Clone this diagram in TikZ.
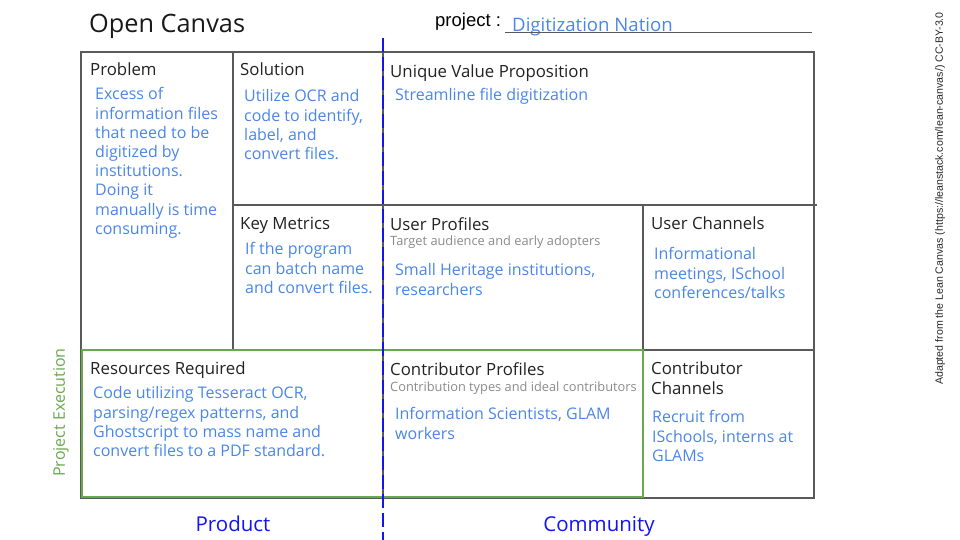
\documentclass[tikz,border=0pt]{standalone}
\usepackage{fontspec}
\setmainfont{Open Sans}
\newfontfamily\arialfont{Liberation Sans}
\usepackage{xcolor}
\definecolor{gridgray}{HTML}{5A5A5A}
\definecolor{headblack}{HTML}{222222}
\definecolor{bodyblue}{HTML}{4A86E8}
\definecolor{hintgray}{HTML}{8A8A8A}
\definecolor{execgreen}{HTML}{6AA84F}
\definecolor{splitblue}{HTML}{1414F0}

\tikzset{
    head/.style={anchor=north west, inner sep=0pt, align=left,
        font=\fontsize{16.8}{19.4}\selectfont, text=headblack},
    body/.style={anchor=north west, inner sep=0pt, align=left,
        font=\fontsize{16}{19.2}\selectfont, text=bodyblue},
    hint/.style={anchor=north west, inner sep=0pt, align=left,
        font=\fontsize{12.8}{15}\selectfont, text=hintgray},
    gridline/.style={draw=gridgray, line width=1.2pt},
    sidelabel/.style={anchor=base, inner sep=0pt, font=\fontsize{20.5}{24}\selectfont, text=splitblue}
}

\begin{document}
\begin{tikzpicture}[x=1pt,y=-1pt]
\useasboundingbox (0,0) rectangle (960,540);

% header
\node[anchor=base west, inner sep=0pt, font=\fontsize{25.3}{30}\selectfont, text=black!90] (title) at (89,33) {Open Canvas};
\node[anchor=base west, inner sep=0pt, font=\arialfont\fontsize{18.5}{21}\selectfont, text=black] (projlabel) at (435,26.5) {project :};
\node[anchor=base west, inner sep=0pt, font=\fontsize{18.6}{21}\selectfont, text=bodyblue] (projname) at (512,32) {Digitization Nation};
\draw[gridgray, line width=1pt] (505,33) -- (812,33);

% grid
\draw[gridline] (81,52) rectangle (814,498);
\draw[gridline] (233,52) -- (233,350);
\draw[gridline] (383,52) -- (383,498);
\draw[gridline] (233,205) -- (817,205);
\draw[gridline] (643,205) -- (643,498);
\draw[gridline] (643,350) -- (814,350);
\draw[execgreen, line width=2pt] (82,350) rectangle (643,497);
\draw[splitblue, line width=2.4pt, dash pattern=on 14pt off 5pt] (383,38) -- (383,540);

% cells
\node[head] (problem) at (90,63) {Problem};
\node[body] (problemtxt) at (95,87.5) {Excess of\\information files\\that need to be\\digitized by\\institutions.\\Doing it\\manually is time\\consuming.};

\node[head] (solution) at (240,63) {Solution};
\node[body] (solutiontxt) at (244,89.5) {Utilize OCR and\\code to identify,\\label, and\\convert files.};

\node[head] (uvp) at (390,65) {Unique Value Proposition};
\node[body] (uvptxt) at (395,88.5) {Streamline file digitization};

\node[head] (metrics) at (240,217) {Key Metrics};
\node[body] (metricstxt) at (245,242.5) {If the program\\can batch name\\and convert files.};

\node[head] (users) at (390,217) {User Profiles};
\node[hint] (usershint) at (390,236) {Target audience and early adopters};
\node[body] (userstxt) at (395,263.5) {Small Heritage institutions,\\researchers};

\node[head] (userchan) at (651,217) {User Channels};
\node[body] (userchantxt) at (654,247.5) {Informational\\meetings, ISchool\\conferences/talks};

\node[head] (resources) at (90,362) {Resources Required};
\node[body] (resourcestxt) at (93,386.5) {Code utilizing Tesseract OCR,\\parsing/regex patterns, and\\Ghostscript to mass name and\\convert files to a PDF standard.};

\node[head] (contrib) at (390,362) {Contributor Profiles};
\node[hint] (contribhint) at (390,382) {Contribution types and ideal contributors};
\node[body] (contribtxt) at (395,407.5) {Information Scientists, GLAM\\workers};

\node[head] (contribchan) at (651,362) {Contributor\\Channels};
\node[body] (contribchantxt) at (652,410.5) {Recruit from\\ISchools, interns at\\GLAMs};

% side labels
\node[inner sep=0pt, rotate=90, font=\fontsize{16}{19}\selectfont, text=execgreen] (execution) at (61,412.5) {Project Execution};
\node[sidelabel] (product) at (233,531.5) {Product};
\node[sidelabel] (community) at (599,531.5) {Community};
\node[inner sep=0pt, rotate=90, font=\arialfont\fontsize{10.6}{12}\selectfont, text=black!85] (credit) at (940,198.5) {Adapted from the Lean Canvas (https://leanstack.com/lean-canvas/) CC-BY-3.0};
\end{tikzpicture}
\end{document}
